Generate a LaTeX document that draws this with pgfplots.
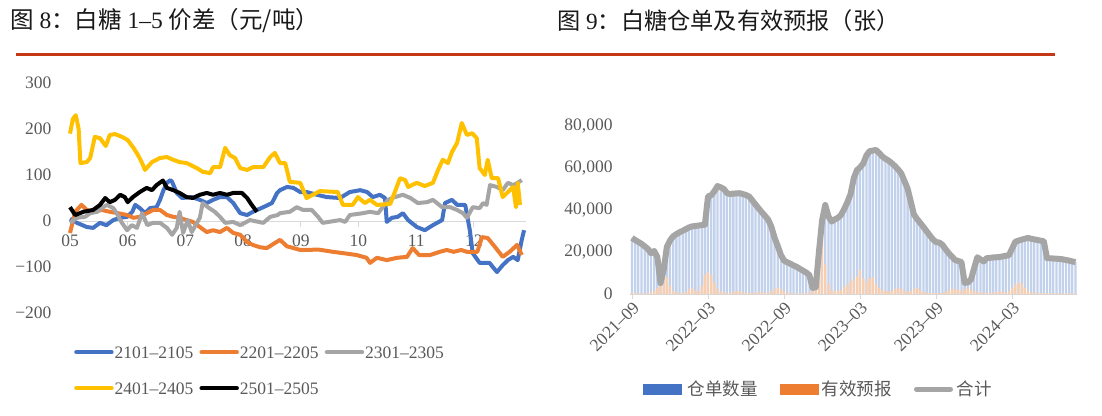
\documentclass[border=0pt]{standalone}
\usepackage{fontspec}
\setmainfont{Liberation Serif}
\newfontfamily\cjk{Noto Sans CJK SC}
\usepackage{pgfplots}
\pgfplotsset{compat=1.18}
\usepackage{pgfplotstable}

\definecolor{c1}{HTML}{4472C4}
\definecolor{c2}{HTML}{ED7D31}
\definecolor{c3}{HTML}{A5A5A5}
\definecolor{c4}{HTML}{FFC000}
\definecolor{c5}{HTML}{000000}
\definecolor{tickgray}{HTML}{595959}
\definecolor{axgray}{HTML}{D9D9D9}
\definecolor{rule}{HTML}{C43816}

\newcommand\tickfont{\fontsize{17.5}{20}\selectfont}

% warehouse receipts: month index from 2021-09, total and effective forecasts
\pgfplotstableread{
m total yb
0 26700 400
0.25 25700 400
0.5 24800 300
0.75 23900 300
1 22700 300
1.25 21500 500
1.5 19400 800
1.75 20500 1500
2 17600 3000
2.25 5200 4800
2.5 11500 9500
2.75 22400 8000
3 25500 4000
3.25 27500 1500
3.5 28500 800
3.75 29400 600
4 30100 500
4.25 30900 1000
4.5 31700 2500
4.75 32200 2800
5 32400 1500
5.25 32600 1500
5.5 32800 4000
5.75 33000 9000
6 46500 10500
6.25 47000 9000
6.5 49000 5500
6.75 51400 2500
7 50800 1200
7.25 50000 800
7.5 48000 600
7.75 47600 500
8 47800 1000
8.25 47900 1500
8.5 48000 1200
8.75 47600 800
9 47100 600
9.25 46400 500
9.5 44500 500
9.75 42600 800
10 40700 1000
10.25 38900 800
10.5 37200 500
10.75 35400 600
11 32000 1200
11.25 26800 2500
11.5 22900 3000
11.75 18600 2500
12 15900 1200
12.25 15100 600
12.5 14400 400
12.75 13600 300
13 12900 300
13.25 12000 300
13.5 11100 300
13.75 10200 400
14 9000 600
14.25 2900 1500
14.5 3200 2500
14.75 20000 18000
15 35000 25000
15.25 42400 14000
15.5 37000 5000
15.75 34500 2000
16 35500 1500
16.25 36300 1500
16.5 37700 2000
16.75 40500 3500
17 43800 4500
17.25 47600 6000
17.5 55100 7000
17.75 59000 8500
18 60300 11500
18.25 62200 7500
18.5 66000 6000
18.75 68000 7500
19 68300 8000
19.25 68600 5000
19.5 67200 3000
19.75 65500 2000
20 64400 1500
20.25 63500 1200
20.5 62300 1500
20.75 60900 2500
21 59300 3000
21.25 57400 2500
21.5 53800 1500
21.75 50200 1000
22 44000 1500
22.25 37800 2500
22.5 35700 3000
22.75 33800 2000
23 31900 1000
23.25 29900 600
23.5 27900 500
23.75 26000 400
24 24700 400
24.25 24500 400
24.5 23400 600
24.75 21300 1000
25 19400 2000
25.25 17800 2500
25.5 16200 2500
25.75 15700 2000
26 15200 1500
26.25 5300 2500
26.5 5500 3000
26.75 6900 2000
27 12300 1500
27.25 17500 1000
27.5 16500 800
27.75 15500 600
28 17100 500
28.25 17200 500
28.5 17400 700
28.75 17500 1000
29 17600 1200
29.25 17900 1000
29.5 18200 800
29.75 18500 1500
30 21700 3000
30.25 24900 4500
30.5 25400 5700
30.75 25900 5000
31 26300 3000
31.25 26700 1500
31.5 26300 800
31.75 26000 600
32 25700 500
32.25 25400 400
32.5 25100 400
32.75 17100 300
33 17000 300
33.25 16900 300
33.5 16800 300
33.75 16700 300
34 16500 300
34.25 16200 300
34.5 15900 300
34.75 15500 300
35 15200 300
}\cangdan

\begin{document}
\begin{tikzpicture}[x=1pt,y=1pt]
\path[use as bounding box] (0,0) rectangle (1102,415);

% titles and rule
\node[anchor=west, inner sep=0pt, text=black!90, font=\fontsize{23.5}{25}\selectfont]
  at (10,394) {{\cjk 图}\ 8{\cjk ：白糖}\ 1–5\ {\cjk 价差（元/吨）}};
\node[anchor=west, inner sep=0pt, text=black!90, font=\fontsize{23.2}{25}\selectfont]
  at (557,394) {{\cjk 图}\ 9{\cjk ：白糖仓单及有效预报（张）}};
\draw[rule, line width=3pt] (16,360.5) -- (1055,360.5);

% left: 1-5 spread, x = months from May
\begin{axis}[
  at={(70pt,102pt)}, anchor=south west,
  scale only axis, width=455.8pt, height=230pt,
  xmin=0, xmax=7.9, ymin=-200, ymax=300,
  enlargelimits=false, clip=false,
  axis x line=middle, axis y line=left,
  hide obscured x ticks=false,
  x axis line style={-, draw=axgray, line width=1pt},
  y axis line style={draw=none},
  xtick={0,1,2,3,4,5,6,7},
  xticklabels={05,06,07,08,09,10,11,12},
  ytick={-200,-100,0,100,200,300},
  yticklabels={−200,−100,0,100,200,300},
  tick label style={font=\tickfont, text=tickgray},
  xticklabel style={anchor=north, yshift=-4pt},
  yticklabel style={xshift=-12pt},
  major x tick style={draw=axgray, line width=1pt},
  major y tick style={draw=none},
  xtick align=outside, major tick length=6pt,
  legend columns=3,
  legend cell align=left,
  legend style={at={(0.0088,-0.139)}, anchor=north west, draw=none, fill=none,
    inner sep=0pt, row sep=22pt, column sep=0pt,
    nodes={inner sep=1pt, text height=12pt, text depth=0pt, font=\tickfont, text=tickgray},
    /tikz/every even column/.append style={column sep=5pt}},
  legend image code/.code={\draw[#1, line width=4.5pt, line cap=round] (2pt,0pt) -- (37pt,0pt);},
  every axis plot/.append style={line width=4pt, line join=round},
]
\addplot[c1] coordinates {
(0.00,5) (0.12,-4) (0.29,-13) (0.40,-15) (0.52,-4) (0.63,-9) (0.75,2) (0.87,7) (0.99,9)
(1.08,20) (1.13,35) (1.21,28) (1.30,17) (1.39,28) (1.50,30) (1.56,46) (1.62,67) (1.68,83)
(1.74,89) (1.77,85) (1.85,61) (1.94,50) (2.11,52) (2.25,46) (2.37,39) (2.48,46) (2.60,52)
(2.72,52) (2.83,39) (2.95,17) (3.07,13) (3.17,20) (3.35,30) (3.50,39) (3.59,61) (3.64,67)
(3.76,74) (3.87,72) (3.99,63) (4.10,63) (4.28,57) (4.45,52) (4.68,50) (4.85,63) (5.03,67)
(5.15,63) (5.25,52) (5.37,57) (5.46,50) (5.49,-2) (5.58,7) (5.68,9) (5.77,17) (5.86,2)
(6.01,-13) (6.15,-20) (6.29,-9) (6.45,2) (6.50,39) (6.62,46) (6.71,35) (6.85,35) (6.93,-20)
(6.98,-70) (7.10,-91) (7.27,-91) (7.40,-111) (7.50,-96) (7.59,-85) (7.68,-78) (7.76,-85)
(7.83,-41) (7.87,-20)
};
\addlegendentry{2101–2105}
\addplot[c2] coordinates {
(0.00,-26) (0.09,20) (0.20,35) (0.29,24) (0.40,20) (0.55,24) (0.69,20) (0.83,17) (0.99,13)
(1.10,7) (1.21,9) (1.33,17) (1.44,24) (1.56,24) (1.68,13) (1.79,9) (1.90,7) (2.02,2)
(2.13,-2) (2.25,-13) (2.37,-24) (2.48,-20) (2.60,-24) (2.72,-15) (2.83,-26) (2.95,-30)
(3.07,-46) (3.17,-52) (3.29,-57) (3.41,-59) (3.55,-48) (3.64,-41) (3.76,-55) (3.88,-59)
(3.99,-63) (4.10,-63) (4.30,-62) (4.56,-67) (4.74,-70) (4.97,-74) (5.14,-80) (5.20,-91)
(5.32,-80) (5.49,-85) (5.67,-80) (5.84,-78) (5.94,-59) (6.05,-74) (6.24,-74) (6.41,-67)
(6.53,-63) (6.65,-67) (6.78,-63) (6.88,-67) (7.06,-67) (7.14,-35) (7.24,-37) (7.37,-57)
(7.50,-78) (7.62,-67) (7.75,-52) (7.83,-74)
};
\addlegendentry{2201–2205}
\addplot[c3] coordinates {
(0.00,-4) (0.12,7) (0.26,9) (0.35,17) (0.47,20) (0.57,30) (0.64,35) (0.75,28) (0.81,17)
(0.90,-4) (0.99,-20) (1.07,-9) (1.16,-15) (1.25,17) (1.34,-9) (1.44,-4) (1.56,-4) (1.68,-15)
(1.77,-30) (1.85,-15) (1.90,20) (1.96,-26) (2.04,2) (2.11,-24) (2.20,-4) (2.25,7) (2.30,39)
(2.39,30) (2.51,20) (2.60,9) (2.69,-4) (2.83,-2) (2.95,-9) (3.12,2) (3.35,-4) (3.47,9)
(3.60,13) (3.64,17) (3.81,20) (3.93,30) (4.04,24) (4.19,24) (4.30,9) (4.38,-4) (4.68,2)
(4.77,-2) (4.85,13) (5.08,17) (5.20,20) (5.34,17) (5.42,30) (5.51,46) (5.63,52) (5.77,57)
(5.90,50) (6.03,39) (6.19,41) (6.29,46) (6.45,30) (6.59,30) (6.71,24) (6.81,17) (6.88,7)
(6.98,30) (7.10,28) (7.16,39) (7.22,35) (7.28,78) (7.40,74) (7.50,67) (7.59,83) (7.68,78)
(7.76,83) (7.83,89)
};
\addlegendentry{2301–2305}
\addplot[c4] coordinates {
(0.00,190) (0.05,222) (0.10,230) (0.15,200) (0.18,126) (0.29,128) (0.35,137) (0.43,183)
(0.52,180) (0.62,163) (0.69,187) (0.78,189) (0.90,183) (1.00,176) (1.10,159) (1.18,143)
(1.25,126) (1.30,111) (1.42,128) (1.56,137) (1.68,139) (1.79,133) (1.90,128) (2.02,126)
(2.20,115) (2.30,107) (2.43,104) (2.48,117) (2.60,117) (2.69,159) (2.77,143) (2.86,137)
(2.95,115) (3.07,111) (3.17,117) (3.35,117) (3.47,139) (3.55,148) (3.64,126) (3.73,126)
(3.81,85) (3.99,83) (4.10,50) (4.21,57) (4.33,65) (4.64,63) (4.73,35) (4.90,35) (4.99,52)
(5.11,39) (5.20,46) (5.32,35) (5.55,37) (5.63,63) (5.72,93) (5.81,89) (5.86,74) (6.01,83)
(6.15,76) (6.29,83) (6.38,111) (6.46,133) (6.55,126) (6.62,150) (6.71,170) (6.79,213)
(6.88,187) (6.97,191) (7.05,180) (7.10,115) (7.19,100) (7.24,133) (7.31,93) (7.42,93)
(7.50,52) (7.59,63) (7.68,74) (7.73,30) (7.76,83) (7.80,35)
};
\addlegendentry{2401–2405}
\addplot[c5] coordinates {
(0.00,30) (0.09,13) (0.23,20) (0.40,24) (0.52,35) (0.61,50) (0.69,41) (0.78,46) (0.87,57)
(0.95,52) (1.00,41) (1.09,52) (1.21,63) (1.33,72) (1.42,67) (1.50,78) (1.61,88) (1.68,72)
(1.79,67) (1.90,61) (2.02,52) (2.13,50) (2.25,57) (2.37,61) (2.48,57) (2.60,61) (2.72,57)
(2.83,61) (2.98,61) (3.07,50) (3.15,35) (3.24,20)
};
\addlegendentry{2501–2505}
\end{axis}

% right: warehouse receipts, x = months from 2021-09
\begin{axis}[
  at={(630.1pt,121pt)}, anchor=south west,
  scale only axis, width=447.3pt, height=168pt,
  xmin=-0.15, xmax=35.15, ymin=0, ymax=80000,
  enlargelimits=false, scaled y ticks=false,
  axis x line=bottom, axis y line=left,
  x axis line style={-, draw=axgray, line width=1pt},
  y axis line style={draw=none},
  xtick={0,6,12,18,24,30},
  xticklabels={2021–09,2022–03,2022–09,2023–03,2023–09,2024–03},
  ytick={0,20000,40000,60000,80000},
  yticklabels={0,{20,000},{40,000},{60,000},{80,000}},
  tick label style={font=\tickfont, text=tickgray},
  xticklabel style={rotate=45, anchor=north east, inner sep=1pt},
  yticklabel style={xshift=-9pt},
  major x tick style={draw=axgray, line width=1pt},
  major y tick style={draw=none},
  tick align=outside, major tick length=5pt,
  legend columns=3,
  legend cell align=left,
  legend style={at={(0.0288,-0.518)}, anchor=north west, draw=none, fill=none,
    inner sep=0pt, column sep=0pt,
    nodes={inner sep=2pt, text height=12pt, text depth=0pt, font=\tickfont, text=tickgray},
    /tikz/every even column/.append style={column sep=20pt}},
]
\addlegendimage{legend image code/.code={\fill[c1] (0pt,-5pt) rectangle (38pt,5pt); \path (42pt,0pt);}}
\addlegendentry{\cjk 仓单数量}
\addlegendimage{legend image code/.code={\fill[c2] (0pt,-5pt) rectangle (38pt,5pt); \path (40pt,0pt);}}
\addlegendentry{\cjk 有效预报}
\addlegendimage{legend image code/.code={\draw[c3, line width=5pt, line cap=round] (2pt,0pt) -- (36pt,0pt); \path (40pt,0pt);}}
\addlegendentry{\cjk 合计}
\addplot[ybar, bar width=2.3pt, bar shift=0pt, fill=c1!32, draw=none, forget plot]
  table[x=m, y=total] {\cangdan};
\addplot[ybar, bar width=2.3pt, bar shift=0pt, fill=c2!38, draw=none, forget plot]
  table[x=m, y=yb] {\cangdan};
\addplot[c3, line width=6pt, line join=round, forget plot]
  table[x=m, y=total] {\cangdan};
\end{axis}
\end{tikzpicture}
\end{document}
